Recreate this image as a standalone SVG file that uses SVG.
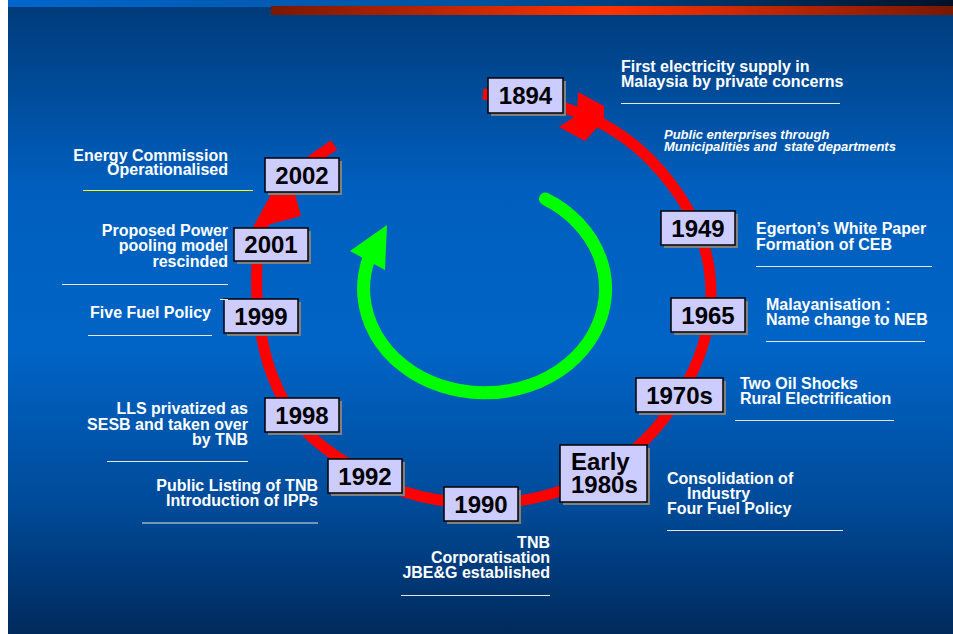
<svg xmlns="http://www.w3.org/2000/svg" width="953" height="634" viewBox="0 0 953 634">
<defs>
<linearGradient id="bg" x1="0" y1="0" x2="0" y2="1">
<stop offset="0" stop-color="#003a78"/>
<stop offset="0.3" stop-color="#005fbe"/>
<stop offset="0.55" stop-color="#0064c6"/>
<stop offset="0.8" stop-color="#004a98"/>
<stop offset="1" stop-color="#002a5c"/>
</linearGradient>
<linearGradient id="topstrip" x1="0" y1="0" x2="1" y2="0">
<stop offset="0" stop-color="#0066cc"/>
<stop offset="0.5" stop-color="#00529f"/>
<stop offset="1" stop-color="#001229"/>
</linearGradient>
<linearGradient id="redbar" x1="0" y1="0" x2="1" y2="0">
<stop offset="0" stop-color="#7a1800"/>
<stop offset="0.49" stop-color="#ff3300"/>
<stop offset="1" stop-color="#7a1800"/>
</linearGradient>
</defs>
<style>
.box{fill:#ccccff;stroke:#000;stroke-width:1.5}
.sh{fill:#808080}
.yt{font-family:"Liberation Sans",Arial,sans-serif;font-weight:bold;font-size:24px;fill:#000;text-anchor:middle}
.lb{font-family:"Liberation Sans",Arial,sans-serif;font-weight:bold;font-size:16px;fill:#fff}
.r{text-anchor:end}
.it{font-family:"Liberation Sans",Arial,sans-serif;font-weight:bold;font-style:italic;font-size:13px;fill:#fff;white-space:pre}
.ul{stroke:#e6e6e6;stroke-width:1}
</style>
<rect x="0" y="0" width="953" height="634" fill="#fff"/>
<rect x="8" y="0" width="945" height="634" fill="url(#bg)"/>
<rect x="8" y="0" width="945" height="7" fill="url(#topstrip)"/>
<rect x="271" y="6" width="682" height="9" fill="url(#redbar)"/>

<g id="connectors">
<path d="M483,94 C510,96 541.3,100.7 565,108 C588.7,115.3 607.2,125.2 625,138 C642.8,150.8 659.2,168 672,185 C684.8,202 695.5,222.2 702,240 C708.5,257.8 710.8,274.5 711,292 C711.2,309.5 708.2,327.8 703,345 C697.8,362.2 689.7,379.2 680,395 C670.3,410.8 658.7,426.7 645,440 C631.3,453.3 616.3,465.3 598,475 C579.7,484.7 556.3,493.3 535,498 C513.7,502.7 491.7,504 470,503 C448.3,502 425.8,498.8 405,492 C384.2,485.2 362.5,473.2 345,462 C327.5,450.8 312.2,439.5 300,425 C287.8,410.5 278.8,392.5 272,375 C265.2,357.5 261.5,338.3 259,320 C256.5,301.7 256.3,280.8 257,265 C257.7,249.2 258.3,237.8 263,225 C267.7,212.2 277.2,198.5 285,188 C292.8,177.5 301.8,169.2 310,162 C318.2,155.2 326,150.7 334,145" fill="none" stroke="#ff0000" stroke-width="11"/>
<polygon points="578,92 604,106 604,120 585,141 559,127 577,115" fill="#ff0000"/>
<polygon points="252,229 287,165 301,216" fill="#ff0000"/>
<path d="M545.5,199 A121,104 0 1 1 368.8,258.6" fill="none" stroke="#00ff00" stroke-width="13" stroke-linecap="round"/>
<polygon points="350,251 387,225 385,270" fill="#00ff00"/>
</g>

<g id="n1894"><rect class="sh" x="491" y="81" width="75" height="35"/><rect class="box" x="488" y="78" width="75" height="35"/><text class="yt" x="525.5" y="104">1894</text></g>
<g id="n1949"><rect class="sh" x="664" y="214" width="74" height="34"/><rect class="box" x="661" y="211" width="74" height="34"/><text class="yt" x="698" y="236.5">1949</text></g>
<g id="n1965"><rect class="sh" x="674" y="301" width="74" height="34"/><rect class="box" x="671" y="298" width="74" height="34"/><text class="yt" x="708" y="323.5">1965</text></g>
<g id="n1970s"><rect class="sh" x="639" y="381" width="87" height="34"/><rect class="box" x="636" y="378" width="87" height="34"/><text class="yt" x="679.5" y="403.5">1970s</text></g>
<g id="n1980s"><rect class="sh" x="563" y="448" width="87" height="57"/><rect class="box" x="560" y="445" width="87" height="57"/><text class="yt" x="571" y="470" style="text-anchor:start">Early</text><text class="yt" x="571" y="493" style="text-anchor:start">1980s</text></g>
<g id="n1990"><rect class="sh" x="447" y="490" width="74" height="34"/><rect class="box" x="444" y="487" width="74" height="34"/><text class="yt" x="481" y="512.5">1990</text></g>
<g id="n1992"><rect class="sh" x="331" y="462" width="74" height="34"/><rect class="box" x="328" y="459" width="74" height="34"/><text class="yt" x="365" y="484.5">1992</text></g>
<g id="n1998"><rect class="sh" x="268" y="401" width="74" height="34"/><rect class="box" x="265" y="398" width="74" height="34"/><text class="yt" x="302" y="423.5">1998</text></g>
<g id="n1999"><rect class="sh" x="227" y="302" width="74" height="34"/><rect class="box" x="224" y="299" width="74" height="34"/><text class="yt" x="261" y="324.5">1999</text></g>
<g id="n2001"><rect class="sh" x="237" y="231" width="74" height="33"/><rect class="box" x="234" y="228" width="74" height="33"/><text class="yt" x="271" y="253">2001</text></g>
<g id="n2002"><rect class="sh" x="268" y="161" width="74" height="34"/><rect class="box" x="265" y="158" width="74" height="34"/><text class="yt" x="302" y="183.5">2002</text></g>

<g id="l1894">
<text class="lb" x="621" y="72">First electricity supply in</text>
<text class="lb" x="621" y="87">Malaysia by private concerns</text>
<line class="ul" x1="621" y1="103.5" x2="840" y2="103.5"/>
<text class="it" x="664" y="138.5">Public enterprises through</text>
<text class="it" x="664" y="151" xml:space="preserve">Municipalities and  state departments</text>
</g>
<g id="l1949">
<text class="lb" x="756" y="234">Egerton’s White Paper</text>
<text class="lb" x="756" y="249.5">Formation of CEB</text>
<line class="ul" x1="756" y1="266.5" x2="932" y2="266.5"/>
</g>
<g id="l1965">
<text class="lb" x="766" y="310">Malayanisation :</text>
<text class="lb" x="766" y="324.5">Name change to NEB</text>
<line class="ul" x1="766" y1="341.5" x2="925" y2="341.5"/>
</g>
<g id="l1970s">
<text class="lb" x="740" y="388.5">Two Oil Shocks</text>
<text class="lb" x="740" y="403.5">Rural Electrification</text>
<line class="ul" x1="735" y1="420.5" x2="894" y2="420.5"/>
</g>
<g id="l1980s">
<text class="lb" x="667" y="484">Consolidation of</text>
<text class="lb" x="687" y="499">Industry</text>
<text class="lb" x="667" y="514">Four Fuel Policy</text>
<line class="ul" x1="667" y1="530.5" x2="843" y2="530.5"/>
</g>
<g id="l1990">
<text class="lb r" x="550" y="548">TNB</text>
<text class="lb r" x="550" y="563">Corporatisation</text>
<text class="lb r" x="550" y="577.5">JBE&amp;G established</text>
<line class="ul" x1="401" y1="595.5" x2="550" y2="595.5"/>
</g>
<g id="l1992">
<text class="lb r" x="318" y="491">Public Listing of TNB</text>
<text class="lb r" x="318" y="505.5">Introduction of IPPs</text>
<line class="ul" x1="142" y1="523" x2="318" y2="523"/>
</g>
<g id="l1998">
<text class="lb r" x="248" y="414">LLS privatized as</text>
<text class="lb r" x="248" y="429.5">SESB and taken over</text>
<text class="lb r" x="248" y="444.5">by TNB</text>
<line class="ul" x1="107" y1="461.5" x2="248" y2="461.5"/>
</g>
<g id="l1999">
<text class="lb r" x="211" y="318">Five Fuel Policy</text>
<line class="ul" x1="88" y1="335.5" x2="212" y2="335.5"/>
<line class="ul" x1="220" y1="299.5" x2="228" y2="299.5"/>
</g>
<g id="l2001">
<text class="lb r" x="228" y="236">Proposed Power</text>
<text class="lb r" x="228" y="251">pooling model</text>
<text class="lb r" x="228" y="266.5">rescinded</text>
<line class="ul" x1="62" y1="284.5" x2="228" y2="284.5"/>
</g>
<g id="l2002">
<text class="lb r" x="228" y="161">Energy Commission</text>
<text class="lb r" x="228" y="175">Operationalised</text>
<line x1="83" y1="190.5" x2="253" y2="190.5" stroke="#ffff00" stroke-width="1"/>
</g>
</svg>
